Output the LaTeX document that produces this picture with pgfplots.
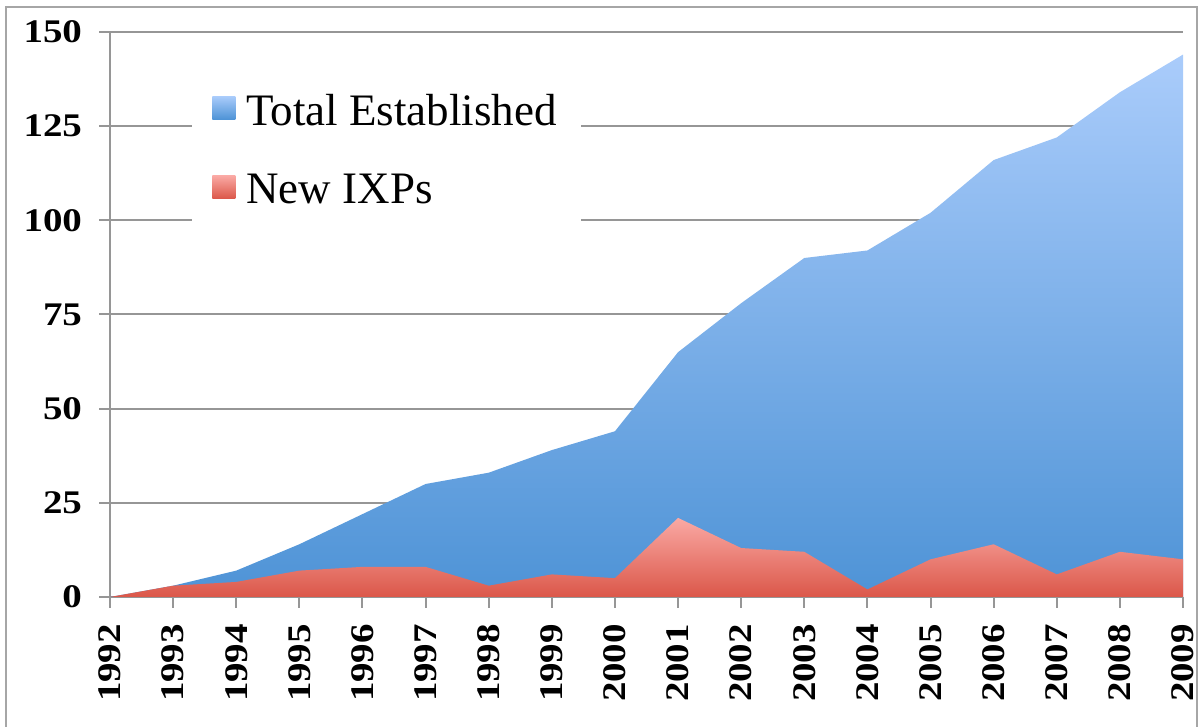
\documentclass[border=0pt]{standalone}
\usepackage{pgfplots}
\pgfplotsset{compat=1.18}
\usepackage{pgfplotstable}
\usepackage{fontspec}
\setmainfont{Liberation Serif}
\newfontfamily\tickfont[FakeStretch=1.18]{Liberation Serif}
\definecolor{bluetop}{HTML}{AACCFB}
\definecolor{bluebot}{HTML}{4E93D6}
\definecolor{redtop}{HTML}{FAA9A4}
\definecolor{redbot}{HTML}{DB5749}
\definecolor{gridgray}{HTML}{969696}
\definecolor{framegray}{HTML}{A6A6A6}

\pgfplotstableread{
year total new
1992 0 0
1993 3 3
1994 7 4
1995 14 7
1996 22 8
1997 30 8
1998 33 3
1999 39 6
2000 44 5
2001 65 21
2002 78 13
2003 90 12
2004 92 2
2005 102 10
2006 116 14
2007 122 6
2008 134 12
2009 144 10
}\data

\begin{document}
\begin{tikzpicture}
\useasboundingbox (0,0) rectangle (599pt,363.5pt);
\draw[framegray, line width=1pt] (3pt,0) -- (3pt,360pt) -- (598.5pt,360pt) -- (598.5pt,0);
\begin{axis}[
  at={(55pt,65pt)}, anchor=south west,
  scale only axis, width=536.5pt, height=282.5pt,
  xmin=1992, xmax=2009, ymin=0, ymax=150,
  xtick={1992,1993,...,2009}, ytick={0,25,...,150},
  axis lines=left,
  axis line style={-, draw=gridgray, line width=1pt},
  ymajorgrids, grid style={draw=gridgray, line width=1pt},
  tick align=outside, major tick length=5.5pt,
  tick style={draw=gridgray, line width=1pt},
  /pgf/number format/assume math mode=true,
  /pgf/number format/set thousands separator={},
  x tick label style={rotate=90, anchor=east, font=\tickfont\bfseries\fontsize{16.5}{18}\selectfont},
  y tick label style={font=\tickfont\bfseries\fontsize{16.5}{18}\selectfont},
  xticklabel shift=4.5pt,
  yticklabel shift=5pt,
  legend style={at={(0.0764,0.926)}, anchor=north west, draw=none, fill=white,
    font=\fontsize{22.5}{26}\selectfont, row sep=19pt, inner xsep=10pt, inner ysep=8pt,
    /tikz/every odd column/.append style={column sep=3.5pt}},
  legend cell align=left,
]
\addplot[draw=none, shade, top color=bluetop, bottom color=bluebot,
  legend image code/.code={\shade[top color=bluetop, bottom color=bluebot] (0pt,-4pt) rectangle (11.5pt,7.5pt);}]
  table[x=year, y=total] {\data} \closedcycle;
\addlegendentry{Total Established}
\addplot[draw=none, shade, top color=redtop, bottom color=redbot,
  legend image code/.code={\shade[top color=redtop, bottom color=redbot] (0pt,-4pt) rectangle (11.5pt,7.5pt);}]
  table[x=year, y=new] {\data} \closedcycle;
\addlegendentry{New IXPs}
\end{axis}
\end{tikzpicture}
\end{document}
